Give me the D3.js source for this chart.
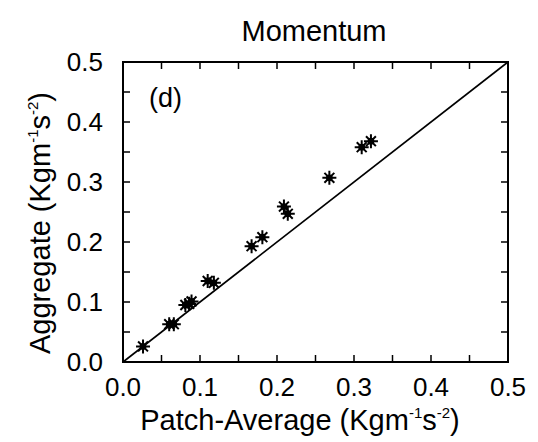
<!DOCTYPE html>
<html><head><meta charset="utf-8">
<script src="https://cdn.jsdelivr.net/npm/d3@7"></script>
<style>
html,body{margin:0;padding:0;background:#fff;}
svg text{font-family:"Liberation Sans",Arial,Helvetica,sans-serif;fill:#000;}
</style></head>
<body><svg id="c" width="538" height="442"></svg>
<script>
const title = "Momentum";
const panelLabel = "(d)";
const xTicks = [0.0, 0.1, 0.2, 0.3, 0.4, 0.5];
const yTicks = [0.0, 0.1, 0.2, 0.3, 0.4, 0.5];
const minorTicks = [0.05, 0.15, 0.25, 0.35, 0.45];
const patchAverage = [0.026, 0.060, 0.066, 0.081, 0.086, 0.089, 0.110, 0.118, 0.167, 0.181, 0.209, 0.214, 0.268, 0.310, 0.322];
const aggregate    = [0.026, 0.063, 0.063, 0.095, 0.097, 0.101, 0.135, 0.132, 0.193, 0.208, 0.259, 0.247, 0.307, 0.358, 0.368];
const lineX = [0, 0.5];

const svg = d3.select("#c");
const L = 123, R = 508, T = 62, B = 362;
const x = d3.scaleLinear().domain([0, 0.5]).range([L, R]);
const y = d3.scaleLinear().domain([0, 0.5]).range([B, T]);
const tickLen = 7;

// frame
svg.append("rect").attr("x", L).attr("y", T).attr("width", R - L).attr("height", B - T)
  .attr("fill", "none").attr("stroke", "#000").attr("stroke-width", 2);

const allTicks = xTicks.concat(minorTicks);
const g = svg.append("g").attr("stroke", "#000").attr("stroke-width", 1.5);
allTicks.forEach(v => {
  g.append("line").attr("x1", x(v)).attr("x2", x(v)).attr("y1", B).attr("y2", B - tickLen);
  g.append("line").attr("x1", x(v)).attr("x2", x(v)).attr("y1", T).attr("y2", T + tickLen);
  g.append("line").attr("y1", y(v)).attr("y2", y(v)).attr("x1", L).attr("x2", L + tickLen);
  g.append("line").attr("y1", y(v)).attr("y2", y(v)).attr("x1", R).attr("x2", R - tickLen);
});

// tick labels
svg.selectAll(".xt").data(xTicks).enter().append("text")
  .attr("x", d => x(d)).attr("y", 396).attr("text-anchor", "middle")
  .attr("font-size", 26).text(d => d.toFixed(1));
svg.selectAll(".yt").data(yTicks).enter().append("text")
  .attr("x", 103).attr("y", d => y(d) + 9).attr("text-anchor", "end")
  .attr("font-size", 26).text(d => d.toFixed(1));

// title
svg.append("text").attr("x", 314).attr("y", 41).attr("text-anchor", "middle")
  .attr("font-size", 29).text(title);

// panel label
svg.append("text").attr("x", 149).attr("y", 107).attr("font-size", 27).text(panelLabel);

// axis titles
function unitTitle(sel, main) {
  sel.append("tspan").text(main + " (Kgm");
  sel.append("tspan").attr("font-size", 15).attr("dy", -12).text("-1");
  sel.append("tspan").attr("dy", 12).text("s");
  sel.append("tspan").attr("font-size", 15).attr("dy", -12).text("-2");
  sel.append("tspan").attr("dy", 12).text(")");
}
const xt = svg.append("text").attr("x", 300).attr("y", 430).attr("text-anchor", "middle").attr("font-size", 29);
unitTitle(xt, "Patch-Average");
const yt = svg.append("text").attr("transform", "translate(50,223) rotate(-90)").attr("text-anchor", "middle").attr("font-size", 29);
unitTitle(yt, "Aggregate");

// 1:1 line
svg.append("line").attr("x1", x(lineX[0])).attr("y1", y(lineX[0])).attr("x2", x(lineX[1])).attr("y2", y(lineX[1]))
  .attr("stroke", "#000").attr("stroke-width", 1.6);

// asterisk markers
const r = 7;
const star = (() => {
  let p = "";
  for (let k = 0; k < 4; k++) {
    const a = k * Math.PI / 4;
    const dx = r * Math.cos(a), dy = r * Math.sin(a);
    p += `M${-dx},${-dy}L${dx},${dy}`;
  }
  return p;
})();
const pts = svg.selectAll(".pt").data(patchAverage.map((v, i) => [v, aggregate[i]])).enter().append("g")
  .attr("transform", d => `translate(${x(d[0])},${y(d[1])})`);
pts.append("path").attr("d", star).attr("stroke", "#000").attr("stroke-width", 2).attr("fill", "none");
pts.append("circle").attr("r", 3.4).attr("fill", "#000");
</script></body></html>
